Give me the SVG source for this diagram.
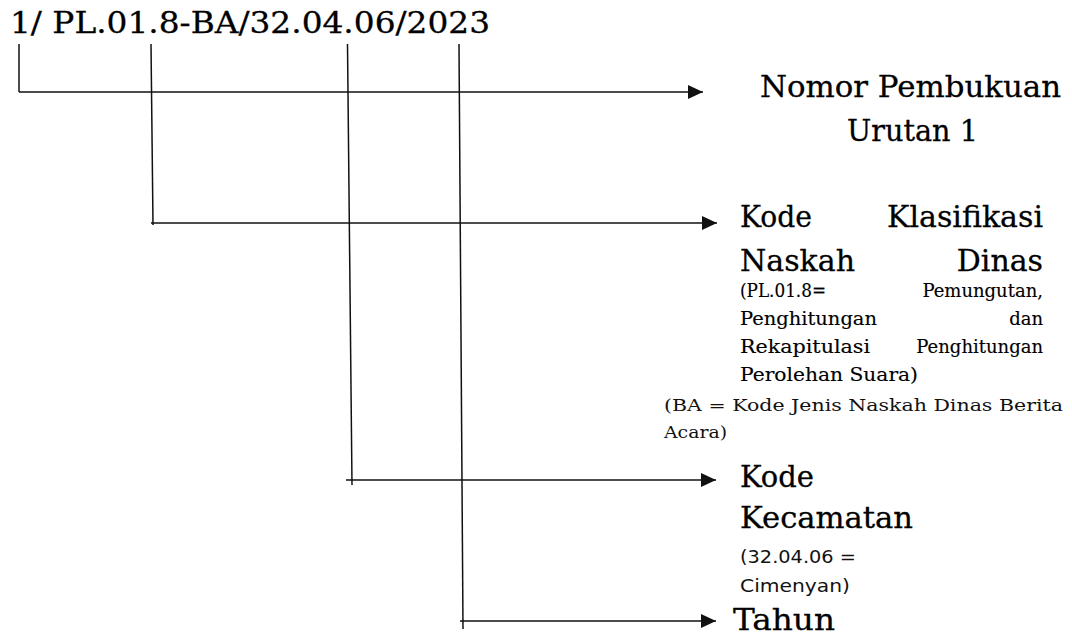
<svg xmlns="http://www.w3.org/2000/svg" width="1072" height="635" viewBox="0 0 1072 635">
  <style>
    .big { font-family: "DejaVu Serif", "Liberation Serif", serif; font-size: 30px; fill: #000; stroke: #000; stroke-width: 0.3; }
    .small { font-family: "DejaVu Serif", "Liberation Serif", serif; font-size: 18px; fill: #000; stroke: #000; stroke-width: 0.15; }
    .note { font-family: "DejaVu Serif", "Liberation Serif", serif; font-size: 17px; fill: #111; }
    .sans { font-family: "DejaVu Sans", "Liberation Sans", sans-serif; font-size: 18px; fill: #111; }
    .end { text-anchor: end; }
    .wire { fill: none; stroke: #111; stroke-width: 1.5; }
  </style>
  <defs>
    <marker id="head" markerUnits="userSpaceOnUse" markerWidth="16" markerHeight="14" refX="15" refY="7" orient="auto">
      <path d="M0,0 L15,7 L0,14 z" fill="#111"/>
    </marker>
  </defs>

  <!-- document number -->
  <g id="nomor">
    <text class="big" x="10" y="33" font-size="29" textLength="480" lengthAdjust="spacingAndGlyphs">1/ PL.01.8-BA/32.04.06/2023</text>
  </g>

  <!-- connectors from each part of the number -->
  <g id="connectors">
    <path class="wire" d="M19,44 L19,92"/>
    <path class="wire" d="M19,92 L703,92" marker-end="url(#head)"/>
    <path class="wire" d="M151,44 L153,225"/>
    <path class="wire" d="M151,223 L717,223" marker-end="url(#head)"/>
    <path class="wire" d="M347.5,44 L352,485"/>
    <path class="wire" d="M346,480 L716,480" marker-end="url(#head)"/>
    <path class="wire" d="M459,44 L463,629"/>
    <path class="wire" d="M460,621 L716,621" marker-end="url(#head)"/>
  </g>

  <g id="pembukuan">
    <text class="big" x="760" y="97" textLength="301" lengthAdjust="spacingAndGlyphs">Nomor Pembukuan</text>
    <text class="big" x="847" y="141" textLength="131" lengthAdjust="spacingAndGlyphs">Urutan 1</text>
  </g>

  <g id="klasifikasi">
    <text class="big" x="740" y="227" textLength="72" lengthAdjust="spacingAndGlyphs">Kode</text>
    <text class="big end" x="1043" y="227">Klasifikasi</text>
    <text class="big" x="740" y="271" textLength="115" lengthAdjust="spacingAndGlyphs">Naskah</text>
    <text class="big end" x="1043" y="271">Dinas</text>
    <text class="small" x="740" y="297" textLength="86" lengthAdjust="spacingAndGlyphs">(PL.01.8=</text>
    <text class="small end" x="1043" y="297">Pemungutan,</text>
    <text class="small" x="740" y="325" textLength="137" lengthAdjust="spacingAndGlyphs">Penghitungan</text>
    <text class="small end" x="1043" y="325">dan</text>
    <text class="small" x="740" y="353" textLength="130" lengthAdjust="spacingAndGlyphs">Rekapitulasi</text>
    <text class="small end" x="1043" y="353">Penghitungan</text>
    <text class="small" x="740" y="381" textLength="178" lengthAdjust="spacingAndGlyphs">Perolehan Suara)</text>
    <text class="note" x="664" y="411" textLength="399" lengthAdjust="spacingAndGlyphs">(BA = Kode Jenis Naskah Dinas Berita</text>
    <text class="note" x="664" y="438" textLength="63" lengthAdjust="spacingAndGlyphs">Acara)</text>
  </g>

  <g id="kecamatan">
    <text class="big" x="740" y="487" textLength="74" lengthAdjust="spacingAndGlyphs">Kode</text>
    <text class="big" x="740" y="528" textLength="173" lengthAdjust="spacingAndGlyphs">Kecamatan</text>
    <text class="sans" x="740" y="563" textLength="116" lengthAdjust="spacingAndGlyphs">(32.04.06 =</text>
    <text class="sans" x="740" y="592" textLength="110" lengthAdjust="spacingAndGlyphs">Cimenyan)</text>
  </g>

  <g id="tahun">
    <text class="big" x="733" y="630" textLength="102" lengthAdjust="spacingAndGlyphs">Tahun</text>
  </g>
</svg>
